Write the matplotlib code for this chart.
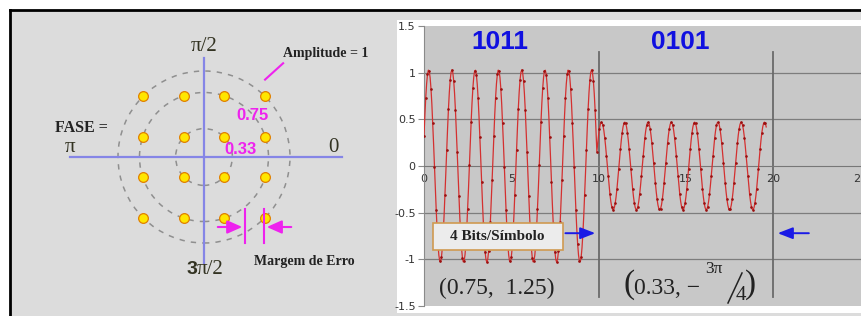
import numpy as np
import matplotlib.pyplot as plt
from matplotlib.patches import Circle, Rectangle

plt.rcParams['axes.unicode_minus'] = False

# constellation (16-QAM) data
const_levels = [-0.707, -0.233, 0.233, 0.707]
ring_radii = [0.33, 0.75, 1.0]
ring_labels = ['0.33', '0.75']

# modulated carrier: one entry per symbol
symbol_bits = ['1011', '0101']
symbol_amp = [1.03, 0.47]
symbol_phase = [-1.25, 3 * np.pi / 4]
symbol_start = [0.0, 10.0]
symbol_end = [9.9, 19.6]
carrier_freq = 0.75
sample_step = 0.05
symbol_edges = [10, 20]

y_ticks = [-1.5, -1, -0.5, 0, 0.5, 1, 1.5]
y_ticklabels = ['-1.5', '-1', '-0.5', '0', '0.5', '1', '1.5']
x_ticks = [0, 5, 10, 15, 20, 25]

W, H = 862, 316
serif = 'Liberation Serif'
sans = 'Liberation Sans'


def px_box(x0, y0, x1, y1):
    # pixel box (image coords) -> figure fraction
    return [x0 / W, 1 - y1 / H, (x1 - x0) / W, (y1 - y0) / H]


fig = plt.figure(figsize=(W / 100, H / 100), dpi=100)
fig.patch.set_facecolor('white')

# background panels
bg = fig.add_axes([0, 0, 1, 1])
bg.set_xlim(0, W)
bg.set_ylim(H, 0)
bg.axis('off')
bg.add_patch(Rectangle((10, 10), W - 10, H - 10, facecolor='#dcdcdc', edgecolor='none'))
bg.plot([10, W], [10, 10], color='black', lw=2)
bg.plot([10, 10], [10, H], color='black', lw=2)
bg.add_patch(Rectangle((397, 20), W - 397, 293, facecolor='white', edgecolor='none'))

# ---------------- left: constellation ----------------
ax1 = fig.add_axes(px_box(11, 11, 395, 316))
ax1.set_xlim((11 - 204) / 86, (395 - 204) / 86)
ax1.set_ylim((157 - 316) / 86, (157 - 11) / 86)
ax1.axis('off')

for r in ring_radii:
    ax1.add_patch(Circle((0, 0), r, fill=False, edgecolor='#8f8f8f', lw=1.1, ls=(0, (3.5, 4))))

ax1.plot([-1.56, 1.60], [0, 0], color='#8585e6', lw=1.6)
ax1.plot([0, 0], [-1.23, 1.15], color='#8585e6', lw=1.6)

qi, qq = np.meshgrid(const_levels, const_levels)
ax1.plot(qi.ravel(), qq.ravel(), 'o', ms=7, mfc='#ffe600', mec='#e08000', mew=0.9)

ax1.text(0, 1.28, 'π/2', ha='center', va='center', fontsize=15, family=serif, color='#333322')
ax1.text(-0.08, -1.31, '3', ha='right', va='center', fontsize=14, family=sans,
         fontweight='bold', color='#333322')
ax1.text(-0.08, -1.31, 'π/2', ha='left', va='center', fontsize=15, family=serif, color='#333322')
ax1.text(1.50, 0.11, '0', ha='center', va='center', fontsize=15, family=serif, color='#333322')
ax1.text(-1.56, 0.11, 'π', ha='center', va='center', fontsize=15, family=serif, color='#333322')
ax1.text(-1.42, 0.34, 'FASE =', ha='center', va='center', fontsize=11.5, family=serif,
         fontweight='bold', color='#222222')
ax1.text(1.42, 1.20, 'Amplitude = 1', ha='center', va='center', fontsize=10, family=serif,
         fontweight='bold', color='#222222')
ax1.plot([0.92, 0.71], [1.09, 0.90], color='#ee22ee', lw=1.5)
ax1.text(0.56, 0.48, ring_labels[1], ha='center', va='center', fontsize=12,
         family=sans, fontweight='bold', color='#ee22ee')
ax1.text(0.42, 0.09, ring_labels[0], ha='center', va='center', fontsize=12,
         family=sans, fontweight='bold', color='#ee22ee')
ax1.text(1.17, -1.21, 'Margem de Erro', ha='center', va='center', fontsize=10, family=serif,
         fontweight='bold', color='#222222')

# error margin marks
for xm in [0.477, 0.698]:
    ax1.plot([xm, xm], [-0.60, -1.0], color='#ee22ee', lw=1.5)
ax1.annotate('', xy=(0.477, -0.814), xytext=(0.128, -0.814),
             arrowprops=dict(arrowstyle='-|>,head_length=0.9,head_width=0.4', color='#ee22ee', lw=1.5))
ax1.annotate('', xy=(0.698, -0.814), xytext=(1.047, -0.814),
             arrowprops=dict(arrowstyle='-|>,head_length=0.9,head_width=0.4', color='#ee22ee', lw=1.5))

# ---------------- right: modulated signal ----------------
ax2 = fig.add_axes(px_box(424, 26, 864, 306))
ax2.set_facecolor('#c8c8c8')
ax2.set_xlim(0, 25.2)
ax2.set_ylim(-1.5, 1.5)
for s in ['top', 'right']:
    ax2.spines[s].set_visible(False)
ax2.spines['left'].set_color('#8a8a8a')
ax2.spines['bottom'].set_position(('data', 0))
ax2.spines['bottom'].set_color('#777777')
ax2.set_yticks(y_ticks)
ax2.set_yticklabels(y_ticklabels)
ax2.set_xticks(x_ticks)
ax2.tick_params(axis='y', length=4, color='#8a8a8a', labelsize=8, labelcolor='#333333', pad=2)
ax2.tick_params(axis='x', length=0, labelsize=8, labelcolor='#333333', pad=6)
for yv in [-1, -0.5, 0.5, 1]:
    ax2.axhline(yv, color='#7d7d7d', lw=0.9, zorder=1)
for xe in symbol_edges:
    ax2.plot([xe, xe], [-1.4, 1.22], color='#6a6a6a', lw=1.3, zorder=1)

t_all, s_all = [], []
for a, ph, t0, t1 in zip(symbol_amp, symbol_phase, symbol_start, symbol_end):
    t = np.arange(t0, t1 + 1e-9, sample_step)
    t_all.append(t)
    s_all.append(a * np.cos(2 * np.pi * carrier_freq * t + ph))
t_all = np.concatenate(t_all)
s_all = np.concatenate(s_all)
ax2.plot(t_all, s_all, color='#d43030', lw=0.9, marker='.', ms=1.8, mfc='#9a1010', mec='#9a1010',
         markevery=2, zorder=3)

for txt, xc in zip(symbol_bits, [4.36, 14.67]):
    ax2.text(xc, 1.33, txt, ha='center', va='center', fontsize=19, family=sans,
             fontweight='bold', color='#1010e0')

box = Rectangle((0.5, -0.90), 7.44, 0.29, facecolor='#ececec', edgecolor='#d09a50', lw=1.2, zorder=4)
ax2.add_patch(box)
ax2.text(4.22, -0.755, '4 Bits/Símbolo', ha='center', va='center', fontsize=11, family=serif,
         fontweight='bold', color='#222222', zorder=5)
ax2.annotate('', xy=(9.97, -0.72), xytext=(7.94, -0.72),
             arrowprops=dict(arrowstyle='-|>,head_length=0.9,head_width=0.35', color='#1a1ae6', lw=1.4))
ax2.annotate('', xy=(20.1, -0.72), xytext=(22.2, -0.72),
             arrowprops=dict(arrowstyle='-|>,head_length=0.9,head_width=0.35', color='#1a1ae6', lw=1.4))

# ---------------- symbol coordinates (pixel overlay) ----------------
ov = fig.add_axes([0, 0, 1, 1])
ov.set_xlim(0, W)
ov.set_ylim(H, 0)
ov.axis('off')
ov.patch.set_visible(False)
tc = '#222222'
ov.text(497, 288, '(0.75,  1.25)', ha='center', va='center', fontsize=17, family=serif, color=tc)
ov.text(629, 285, '(', ha='center', va='center', fontsize=24, family=serif, color=tc)
ov.text(634, 288, '0.33, −', ha='left', va='center', fontsize=17, family=serif, color=tc)
ov.text(714, 269, '3π', ha='center', va='center', fontsize=12.5, family=serif, color=tc)
ov.plot([728, 742], [303, 273], color=tc, lw=1.1)
ov.text(741, 295, '4', ha='center', va='center', fontsize=15, family=serif, color=tc)
ov.text(751, 285, ')', ha='center', va='center', fontsize=24, family=serif, color=tc)

fig.savefig('out.png', dpi=100)
